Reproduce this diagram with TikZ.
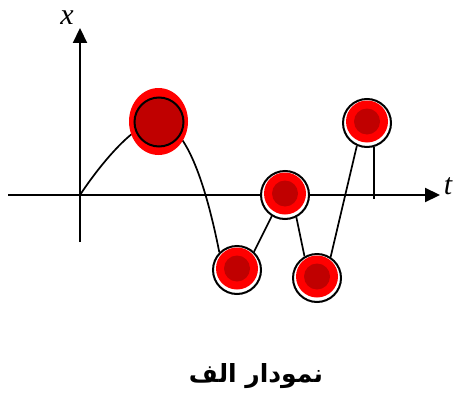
\documentclass[tikz,border=0pt]{standalone}
\usepackage{fontspec}
\setmainfont{Liberation Serif}
\newfontfamily\arabicfont[Script=Arabic]{DejaVu Sans}
\TeXXeTstate=1
\usetikzlibrary{arrows.meta,backgrounds}
\definecolor{dkred}{RGB}{192,0,0}
\definecolor{brred}{RGB}{255,0,0}
\begin{document}
\begin{tikzpicture}[x=1pt,y=-1pt,
  axis/.style={line width=2.2pt,-{Triangle[length=15pt,width=14pt]}},
  curve/.style={line width=1.7pt},
  ball/.style={circle,draw=black,line width=2pt,fill=white,minimum size=48pt,inner sep=0pt},
  lbl/.style={font=\fontsize{30}{30}\selectfont\itshape,inner sep=0pt}]
\useasboundingbox (0,0) rectangle (454,396);
% origin and axis ends
\coordinate (O) at (80,195);
\coordinate (xl) at (8,195);
\coordinate (xr) at (440,195);
\coordinate (yb) at (80,242);
\coordinate (yt) at (80,28);
\coordinate (tend) at (374,199);
% big point
\coordinate (B) at (159,122);
\fill[brred] (158.5,121.5) ellipse [x radius=29.5,y radius=33.5];
\node[circle,draw=black,line width=2pt,fill=dkred,minimum size=49pt,inner sep=0pt] (c1) at (B) {};
% small points
\foreach \n/\p in {c2/{(285,195)},c3/{(237,270)},c4/{(317,278)},c5/{(367,123)}}{
  \node[ball] (\n) at \p {};
  \fill[brred] ([yshift=1.5pt]\n.center) circle (21);
  \fill[dkred] ([yshift=1.5pt]\n.center) circle (13);
}
\begin{scope}[on background layer]
  \draw[axis] (xl) -- (xr);
  \draw[axis] (yb) -- (yt);
  \draw[curve] (O) .. controls (95,172) and (135,119) .. (B)
     .. controls (185,125) and (205,180) .. (c3.north west);
  \draw[curve] (c3.47) -- (c2.238);
  \draw[curve] (c2.297) -- (c4.120);
  \draw[curve] (c4.57) -- (c5.246);
  \draw[curve] (c5.-73) -- (c5.-73 |- tend);
\end{scope}
\node[lbl] (xlab) at (67,18) {x};
\node[lbl] (tlab) at (448,186) {t};
\node[inner sep=0pt] (cap) at (256,376) {\arabicfont\bfseries\fontsize{25}{25}\selectfont\beginR نمودار الف\endR};
\end{tikzpicture}
\end{document}
